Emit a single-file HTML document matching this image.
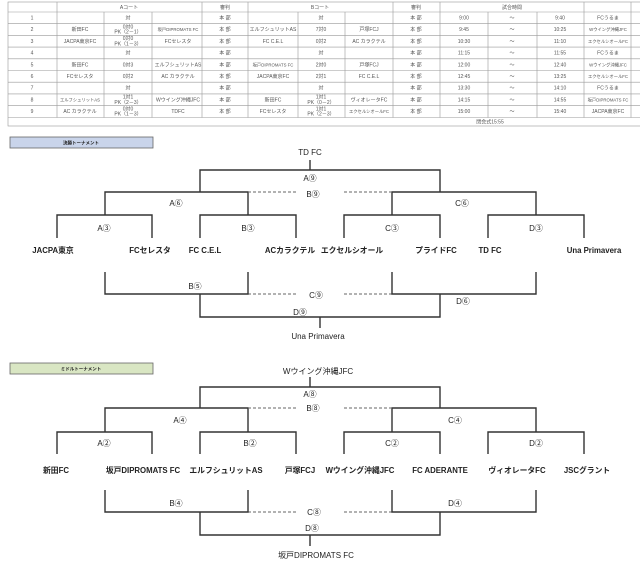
<!DOCTYPE html>
<html><head><meta charset="utf-8"><style>
html,body{margin:0;padding:0;background:#fff;width:640px;height:573px;overflow:hidden}
svg{display:block}
.t{font-family:"Liberation Sans","Noto Sans CJK JP",sans-serif;font-size:5px;fill:#555;text-anchor:middle}
.s{font-size:4.3px}
.n{font-family:"Liberation Sans","Noto Sans CJK JP",sans-serif;font-size:7.8px;font-weight:bold;fill:#222;text-anchor:middle}
.l{font-family:"Liberation Sans","Noto Sans CJK JP",sans-serif;font-size:8px;fill:#222;text-anchor:middle}
.b{stroke:#333;stroke-width:1.4;fill:none}
.d{stroke:#666;stroke-width:1;stroke-dasharray:3,2;fill:none}
.g{stroke:#999;stroke-width:0.6;fill:none}
</style></head><body>
<svg width="640" height="573" viewBox="0 0 640 573" xmlns="http://www.w3.org/2000/svg">
<g class="g">
<rect x="8" y="2" width="640" height="124"/>
<line x1="8" y1="12" x2="640" y2="12"/>
<line x1="8" y1="23.7" x2="640" y2="23.7"/>
<line x1="8" y1="35.4" x2="640" y2="35.4"/>
<line x1="8" y1="47.1" x2="640" y2="47.1"/>
<line x1="8" y1="58.8" x2="640" y2="58.8"/>
<line x1="8" y1="70.5" x2="640" y2="70.5"/>
<line x1="8" y1="82.2" x2="640" y2="82.2"/>
<line x1="8" y1="93.9" x2="640" y2="93.9"/>
<line x1="8" y1="105.6" x2="640" y2="105.6"/>
<line x1="8" y1="117.5" x2="640" y2="117.5"/>
<line x1="57" y1="2" x2="57" y2="117.5"/>
<line x1="104" y1="12" x2="104" y2="117.5"/>
<line x1="152" y1="12" x2="152" y2="117.5"/>
<line x1="202" y1="2" x2="202" y2="117.5"/>
<line x1="248" y1="2" x2="248" y2="117.5"/>
<line x1="298" y1="12" x2="298" y2="117.5"/>
<line x1="345" y1="12" x2="345" y2="117.5"/>
<line x1="393" y1="2" x2="393" y2="117.5"/>
<line x1="440" y1="2" x2="440" y2="117.5"/>
<line x1="488" y1="12" x2="488" y2="117.5"/>
<line x1="537" y1="12" x2="537" y2="117.5"/>
<line x1="584" y1="2" x2="584" y2="117.5"/>
<line x1="631" y1="2" x2="631" y2="117.5"/>
</g>
<g class="t">
<text x="129" y="9">Aコート</text><text x="225" y="9">審判</text><text x="320" y="9">Bコート</text><text x="416" y="9">審判</text><text x="512" y="9">試合時間</text>
<text x="32" y="19.5">1</text><text x="128" y="19.5">対</text><text x="225" y="19.5">本 部</text><text x="321" y="19.5">対</text><text x="416" y="19.5">本 部</text><text x="464" y="19.5">9:00</text><text x="512" y="19.5">〜</text><text x="560" y="19.5">9:40</text><text x="608" y="19.5">FCうるま</text>
<text x="32" y="31.2">2</text><text x="80" y="31.2">新田FC</text><text x="128" y="28.5">0対0</text><text x="128" y="33.6">PK（2－1）</text><text x="178" y="31.2" class="t s">坂戸DIPROMATS FC</text><text x="225" y="31.2">本 部</text><text x="273" y="31.2">エルフシュリットAS</text><text x="321" y="31.2">7対0</text><text x="369" y="31.2">戸塚FCJ</text><text x="416" y="31.2">本 部</text><text x="464" y="31.2">9:45</text><text x="512" y="31.2">〜</text><text x="560" y="31.2">10:25</text><text x="608" y="31.2" class="t s">Wウイング沖縄JFC</text>
<text x="32" y="42.9">3</text><text x="80" y="42.9">JACPA東京FC</text><text x="128" y="40.2">0対0</text><text x="128" y="45.3">PK（1－3）</text><text x="178" y="42.9">FCセレスタ</text><text x="225" y="42.9">本 部</text><text x="273" y="42.9">FC C.E.L</text><text x="321" y="42.9">0対2</text><text x="369" y="42.9">AC カラクテル</text><text x="416" y="42.9">本 部</text><text x="464" y="42.9">10:30</text><text x="512" y="42.9">〜</text><text x="560" y="42.9">11:10</text><text x="608" y="42.9" class="t s">エクセルシオールFC</text>
<text x="32" y="54.6">4</text><text x="128" y="54.6">対</text><text x="225" y="54.6">本 部</text><text x="321" y="54.6">対</text><text x="416" y="54.6">本 部</text><text x="464" y="54.6">11:15</text><text x="512" y="54.6">〜</text><text x="560" y="54.6">11:55</text><text x="608" y="54.6">FCうるま</text>
<text x="32" y="66.3">5</text><text x="80" y="66.3">新田FC</text><text x="128" y="66.3">0対3</text><text x="178" y="66.3">エルフシュリットAS</text><text x="225" y="66.3">本 部</text><text x="273" y="66.3" class="t s">坂戸DIPROMATS FC</text><text x="321" y="66.3">2対0</text><text x="369" y="66.3">戸塚FCJ</text><text x="416" y="66.3">本 部</text><text x="464" y="66.3">12:00</text><text x="512" y="66.3">〜</text><text x="560" y="66.3">12:40</text><text x="608" y="66.3" class="t s">Wウイング沖縄JFC</text>
<text x="32" y="78">6</text><text x="80" y="78">FCセレスタ</text><text x="128" y="78">0対2</text><text x="178" y="78">AC カラクテル</text><text x="225" y="78">本 部</text><text x="273" y="78">JACPA東京FC</text><text x="321" y="78">2対1</text><text x="369" y="78">FC C.E.L</text><text x="416" y="78">本 部</text><text x="464" y="78">12:45</text><text x="512" y="78">〜</text><text x="560" y="78">13:25</text><text x="608" y="78" class="t s">エクセルシオールFC</text>
<text x="32" y="89.7">7</text><text x="128" y="89.7">対</text><text x="225" y="89.7">本 部</text><text x="321" y="89.7">対</text><text x="416" y="89.7">本 部</text><text x="464" y="89.7">13:30</text><text x="512" y="89.7">〜</text><text x="560" y="89.7">14:10</text><text x="608" y="89.7">FCうるま</text>
<text x="32" y="101.4">8</text><text x="80" y="101.4" class="t s">エルフシュリットAS</text><text x="128" y="98.7">1対1</text><text x="128" y="103.8">PK（2－3）</text><text x="178" y="101.4">Wウイング沖縄JFC</text><text x="225" y="101.4">本 部</text><text x="273" y="101.4">新田FC</text><text x="321" y="98.7">1対1</text><text x="321" y="103.8">PK（0－2）</text><text x="369" y="101.4">ヴィオレータFC</text><text x="416" y="101.4">本 部</text><text x="464" y="101.4">14:15</text><text x="512" y="101.4">〜</text><text x="560" y="101.4">14:55</text><text x="608" y="101.4" class="t s">坂戸DIPROMATS FC</text>
<text x="32" y="113.1">9</text><text x="80" y="113.1">AC カラクテル</text><text x="128" y="110.4">0対0</text><text x="128" y="115.5">PK（1－3）</text><text x="178" y="113.1">TDFC</text><text x="225" y="113.1">本 部</text><text x="273" y="113.1">FCセレスタ</text><text x="321" y="110.4">1対1</text><text x="321" y="115.5">PK（2－3）</text><text x="369" y="113.1" class="t s">エクセルシオールFC</text><text x="416" y="113.1">本 部</text><text x="464" y="113.1">15:00</text><text x="512" y="113.1">〜</text><text x="560" y="113.1">15:40</text><text x="608" y="113.1">JACPA東京FC</text>
<text x="490" y="123.5">閉会式15:55</text>
</g>

<rect x="10" y="137" width="143" height="11" fill="#c9d4ea" stroke="#666" stroke-width="0.8"/>
<text x="81" y="144.5" class="t" style="font-size:4.5px;fill:#222;font-weight:bold">決勝トーナメント</text>
<text x="310" y="155" class="l">TD FC</text>
<path class="b" d="M310 160V170M200 192V170H440V192M105 215V192H248V215M392 215V192H536V215M57 238V215H152V238M200 238V215H296V238M344 238V215H440V238M488 238V215H584V238"/>
<path class="d" d="M248 192H296M344 192H392M248 294H296M344 294H392"/>
<text x="310" y="181" class="l">A⑨</text><text x="313" y="197" class="l">B⑨</text>
<text x="176" y="206" class="l">A⑥</text><text x="462" y="206" class="l">C⑥</text>
<text x="104" y="231" class="l">A③</text><text x="248" y="231" class="l">B③</text><text x="392" y="231" class="l">C③</text><text x="536" y="231" class="l">D③</text>
<text x="53" y="253" class="n">JACPA東京</text><text x="150" y="253" class="n">FCセレスタ</text><text x="205" y="253" class="n">FC C.E.L</text><text x="290" y="253" class="n">ACカラクテル</text><text x="352" y="253" class="n">エクセルシオール</text><text x="436" y="253" class="n">プライドFC</text><text x="490" y="253" class="n">TD FC</text><text x="594" y="253" class="n">Una Primavera</text>
<path class="b" d="M105 272V294H248V272M392 272V294H536V272M200 294V317H440V294M320 317V328"/>
<text x="195" y="289" class="l">B⑤</text><text x="316" y="298" class="l">C⑨</text><text x="463" y="304" class="l">D⑥</text><text x="300" y="315" class="l">D⑨</text>
<text x="318" y="339" class="l">Una Primavera</text>

<rect x="10" y="363" width="143" height="11" fill="#d9e6c3" stroke="#666" stroke-width="0.8"/>
<text x="81" y="370.5" class="t" style="font-size:4.5px;fill:#222;font-weight:bold">ミドルトーナメント</text>
<text x="318" y="374" class="l">Wウイング沖縄JFC</text>
<path class="b" d="M310 377V387M200 408V387H440V408M105 432V408H248V432M392 432V408H536V432M57 454V432H152V454M200 454V432H296V454M344 454V432H440V454M488 454V432H584V454"/>
<path class="d" d="M248 408H296M344 408H392M248 512H296M344 512H392"/>
<text x="310" y="397" class="l">A⑧</text><text x="313" y="411" class="l">B⑧</text>
<text x="180" y="423" class="l">A④</text><text x="455" y="423" class="l">C④</text>
<text x="104" y="446" class="l">A②</text><text x="250" y="446" class="l">B②</text><text x="392" y="446" class="l">C②</text><text x="536" y="446" class="l">D②</text>
<text x="56" y="473" class="n">新田FC</text><text x="143" y="473" class="n">坂戸DIPROMATS FC</text><text x="226" y="473" class="n">エルフシュリットAS</text><text x="300" y="473" class="n">戸塚FCJ</text><text x="360" y="473" class="n">Wウイング沖縄JFC</text><text x="440" y="473" class="n">FC ADERANTE</text><text x="517" y="473" class="n">ヴィオレータFC</text><text x="587" y="473" class="n">JSCグラント</text>
<path class="b" d="M105 490V512H248V490M392 490V512H536V490M200 512V535H440V512M310 535V546"/>
<text x="176" y="506" class="l">B④</text><text x="455" y="506" class="l">D④</text><text x="314" y="515" class="l">C⑧</text><text x="312" y="531" class="l">D⑧</text>
<text x="316" y="558" class="l">坂戸DIPROMATS FC</text>
</svg>
</body></html>
